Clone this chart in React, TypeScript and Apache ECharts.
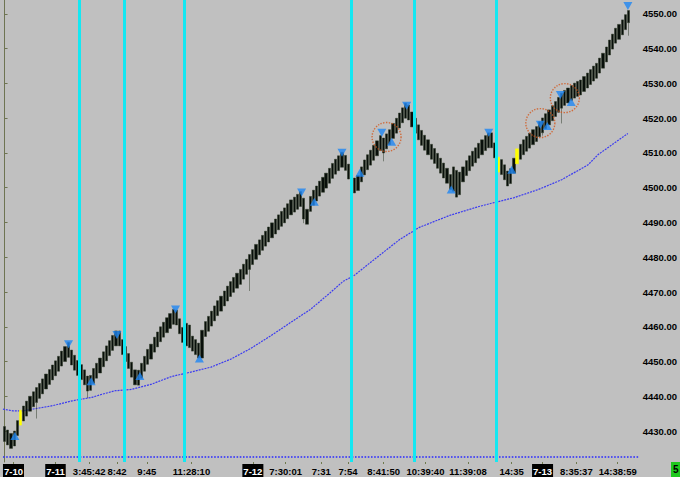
import React, { useEffect, useRef } from "react";
import * as echarts from "echarts";

const N_SLOTS = 200;
const RANGE = 4.3;

// bar closes per trading day
const closesDay0710 = [
  4427, 4426, 4425, 4430, 4433, 4436, 4437.2, 4438.6, 4440, 4441.3, 4442.5, 4443.7, 4445, 4446.4, 4447.7, 4449,
];
const closesDay0711 = [
  4450.2, 4451.5, 4453, 4454.3, 4455.5, 4449, 4447.5, 4446, 4444.8, 4443.3, 4441.5, 4446, 4448, 4449.5, 4451,
  4452.8, 4454.5, 4456, 4457.5, 4458.8, 4454.5, 4452, 4450, 4448, 4445.5, 4443.3, 4447.5, 4449.5, 4451.5, 4453.5,
  4455, 4457, 4458.5, 4460, 4461.3, 4462.6, 4463.8, 4465, 4460.5, 4458, 4455.5, 4461, 4454, 4453, 4452, 4451,
  4459, 4461.5, 4463, 4464.5, 4466, 4467.5, 4468.8, 4470.3, 4471.7, 4473, 4474.2, 4475.4, 4476.5, 4478, 4479.4,
  4480.8,
];
const closesDay0712 = [
  4482.2, 4483.7, 4485, 4486.3, 4487.5, 4488.7, 4489.9, 4491, 4492.2, 4493.2, 4494.2, 4495.4, 4496.5, 4497.3,
  4498.1, 4498.9, 4491, 4489.5, 4497.5, 4499.3, 4500.5, 4501.9, 4503, 4504.2, 4505.6, 4507, 4508.2, 4509.2,
  4510.2, 4505, 4502.5, 4500.5, 4498.5, 4503.5, 4506, 4508, 4509.5, 4510.8, 4512.2, 4513.5, 4515, 4510, 4515.5,
  4516.7, 4518.5, 4520, 4521.5, 4523, 4524.3, 4519.5, 4517.5, 4515.7, 4513.8, 4512.2, 4510.8, 4509.5, 4508.2,
  4507, 4505.6, 4504.2, 4502.8, 4501.3, 4499.5, 4506, 4497.3, 4504.5, 4506, 4507.8, 4509.2, 4510.5, 4511.5,
  4512.8, 4513.8, 4515, 4515.8, 4511.5, 4508.6, 4504.5, 4503.8, 4502.3, 4500.5, 4505.5, 4508.5, 4511.2, 4512.5,
  4513.8, 4514.8, 4515.7, 4516.7, 4517.6, 4519,
];
const closesDay0713 = [
  4520.1, 4521.3, 4522.4, 4523.6, 4524.8, 4526, 4527.2, 4528, 4528.7, 4529.4, 4530.1, 4530.6, 4531, 4532, 4533,
  4534, 4535, 4535.8, 4537.3, 4538.7, 4540.5, 4542.5, 4544.2, 4545.9, 4547, 4548.3, 4549.8, 4547.5,
];

// bars whose open is not one range away from the close: [barIndex, open]
const openOverrides: [number, number][] = [
  [57, 4454.5], [58, 4460.5], [62, 4451], [94, 4497], [96, 4493.2], [141, 4499], [142, 4505], [143, 4498], [196, 4551],
];
// long lower wicks: [barIndex, low]
const wickLows: [number, number][] = [
  [10, 4433.6], [26, 4439.5], [77, 4470.3], [94, 4489.8], [119, 4507.6], [169, 4515], [175, 4518.5], [196, 4543.75],
];
const yellowBars = [5, 155, 161];

const sessionLines = [23.4, 37.6, 56.4, 108.8, 128.8, 154.5];
const upSignals: [number, number][] = [
  [3.24, 4428.6], [27.2, 4444.3], [42.5, 4445.8], [61.2, 4450.9], [97.3, 4496.0], [111.6, 4504.35],
  [121.6, 4513.25], [140.3, 4499.5], [159.3, 4505.2], [170.5, 4517.8], [178.0, 4524.7],
];
const downSignals: [number, number][] = [
  [20.1, 4455.0], [35.3, 4457.6], [53.7, 4465.0], [93.3, 4498.6], [106.0, 4510.1], [118.5, 4515.8],
  [126.3, 4523.6], [152.1, 4515.8], [168.3, 4518.1], [174.6, 4526.7], [195.8, 4552.3],
];
const circleMarks: [number, number][] = [[120, 4514.6], [168.3, 4518.6], [176.0, 4525.8]];

const maPoints: [number, number][] = [
  [-0.5, 4436.3], [2.6, 4435.8], [5.7, 4435.8], [8.8, 4436.3], [15.1, 4437.3], [21.3, 4438.7], [27.5, 4439.7],
  [30.7, 4440.6], [34.8, 4441.6], [40, 4442.0], [46.2, 4443.5], [52.5, 4445.7], [58.7, 4447.0], [64.9, 4448.4],
  [71.1, 4450.7], [77.4, 4453.8], [83.6, 4457.4], [89.8, 4461.2], [96.1, 4465.0], [102.3, 4469.8],
  [106.4, 4473.1], [109.6, 4474.6], [114.8, 4478.4], [124.1, 4485.1], [130.3, 4488.6], [139.7, 4492.0],
  [149, 4494.6], [153.7, 4495.7], [159.9, 4497.1], [167.7, 4499.5], [175, 4502.3], [183.3, 4506.6],
  [186.4, 4509.5], [195.8, 4515.63],
];

const timeLabels = [
  "7-10", "7-11", "3:45:42", "8:42", "9:45", "11:28:10", "7-12", "7:30:01", "7:31", "7:54", "8:41:50",
  "10:39:40", "11:39:08", "14:35", "7-13", "8:35:37", "14:38:59",
];
const timeLabelPos = [
  2.8, 16.0, 26.6, 35.3, 44.7, 58.7, 78.0, 88.3, 99.5, 107.9, 119.1, 132.2, 145.6, 159.3, 169.0, 179.6, 192.6,
];
const priceTicks = [4430, 4440, 4450, 4460, 4470, 4480, 4490, 4500, 4510, 4520, 4530, 4540, 4550];
const lastPrice = 4543.75;
const floorLine = 4422.5;
const statusText = "5";

const FONT = "'Liberation Sans', Arial, sans-serif";

export default function App() {
  const ref = useRef<HTMLDivElement>(null);
  useEffect(() => {
    if (!ref.current) return;
    const chart = echarts.init(ref.current, undefined, { renderer: "svg" });
    const closes = [...closesDay0710, ...closesDay0711, ...closesDay0712, ...closesDay0713];
    const openMap = new Map(openOverrides);
    const lowMap = new Map(wickLows);
    const candles = closes.map((c, i) => {
      const prev = i === 0 ? c + 1 : closes[i - 1];
      const up = c > prev;
      const open = openMap.has(i) ? (openMap.get(i) as number) : up ? c - RANGE : c + RANGE;
      let low = Math.min(open, c);
      const high = Math.max(open, c);
      if (lowMap.has(i)) low = Math.min(low, lowMap.get(i) as number);
      const item: any = { value: [open, c, low, high] };
      if (yellowBars.includes(i)) {
        item.itemStyle = { color: "#ffff00", color0: "#ffff00", borderColor: "#ffff00", borderColor0: "#ffff00" };
      }
      return item;
    });
    const maLast = maPoints[maPoints.length - 1][1];

    chart.setOption({
      animation: false,
      backgroundColor: "#c0c0c0",
      grid: { left: 0, right: 38, top: 0, bottom: 14 },
      xAxis: [
        {
          type: "category",
          data: Array.from({ length: N_SLOTS }, (_, i) => String(i)),
          boundaryGap: true,
          show: false,
        },
        {
          type: "value",
          min: -0.5,
          max: N_SLOTS - 0.5,
          position: "bottom",
          splitLine: { show: false },
          axisLine: { show: false },
          axisTick: { show: true, customValues: timeLabelPos, length: 2, lineStyle: { color: "#6f7a4f" } },
          axisLabel: {
            customValues: timeLabelPos,
            margin: 2,
            formatter: (v: number) => {
              const k = timeLabelPos.indexOf(v);
              const s = k >= 0 ? timeLabels[k] : "";
              return s.includes("-") ? `{d|${s}}` : `{t|${s}}`;
            },
            rich: {
              d: {
                backgroundColor: "#000",
                color: "#fff",
                fontWeight: "bold",
                fontSize: 9.5,
                fontFamily: FONT,
                padding: [2, 1, 1, 1],
              },
              t: { color: "#000", fontWeight: "bold", fontSize: 9.5, fontFamily: FONT, padding: [2, 0, 1, 0] },
            },
          },
        },
      ],
      yAxis: {
        type: "value",
        position: "right",
        min: 4421.09,
        max: 4554.02,
        splitLine: { show: false },
        axisLine: { show: true, lineStyle: { color: "#6e7452", width: 1 } },
        axisTick: { show: true, customValues: priceTicks, length: 3, lineStyle: { color: "#6e7452" } },
        axisLabel: {
          customValues: priceTicks,
          margin: 3,
          color: "#000",
          fontWeight: "bold",
          fontSize: 9.5,
          fontFamily: FONT,
          formatter: (v: number) => v.toFixed(2),
        },
      },
      series: [
        {
          type: "line",
          xAxisIndex: 1,
          data: maPoints,
          showSymbol: false,
          symbol: "none",
          z: 1,
          lineStyle: { color: "#3c3cf0", width: 1.2, type: [2, 1] },
          markLine: {
            silent: true,
            symbol: ["none", "none"],
            lineStyle: { opacity: 0 },
            data: [
              {
                yAxis: maLast,
                label: {
                  show: true,
                  position: "end",
                  distance: 2,
                  formatter: maLast.toFixed(2),
                  backgroundColor: "#1414e6",
                  color: "#fff",
                  fontWeight: "bold",
                  fontSize: 9.5,
                  fontFamily: FONT,
                  padding: [2, 1, 1, 2],
                },
              },
              {
                yAxis: lastPrice,
                label: {
                  show: true,
                  position: "end",
                  distance: 2,
                  formatter: lastPrice.toFixed(2),
                  backgroundColor: "#ffff00",
                  color: "#000",
                  fontWeight: "bold",
                  fontSize: 9.5,
                  fontFamily: FONT,
                  padding: [2, 1, 1, 2],
                },
              },
            ],
          },
        },
        {
          type: "candlestick",
          xAxisIndex: 0,
          data: candles,
          barWidth: 2.7,
          z: 2,
          itemStyle: {
            color: "#080f0a",
            color0: "#080f0a",
            borderColor: "#2e3a28",
            borderColor0: "#2e3a28",
            borderWidth: 0.5,
          },
          markLine: {
            silent: true,
            symbol: ["none", "none"],
            label: { show: false },
            lineStyle: { color: "#2828ff", type: "dotted", width: 1.6 },
            data: [{ yAxis: floorLine }],
          },
        },
        {
          type: "scatter",
          xAxisIndex: 1,
          data: circleMarks,
          symbol: "circle",
          symbolSize: 29,
          z: 3,
          itemStyle: { color: "rgba(0,0,0,0)", borderColor: "#d2561c", borderType: "dotted", borderWidth: 1.4 },
          markLine: {
            silent: true,
            symbol: ["none", "none"],
            label: { show: false },
            lineStyle: { color: "#14e8f2", type: "solid", width: 3, opacity: 1 },
            data: sessionLines.map((v) => ({ xAxis: v })),
          },
        },
        {
          type: "scatter",
          xAxisIndex: 1,
          data: upSignals,
          symbol: "triangle",
          symbolSize: [9, 8],
          z: 6,
          itemStyle: { color: "#1e86f2" },
        },
        {
          type: "scatter",
          xAxisIndex: 1,
          data: downSignals,
          symbol: "triangle",
          symbolRotate: 180,
          symbolSize: [9, 8],
          z: 6,
          itemStyle: { color: "#1e86f2" },
        },
      ],
      graphic: [
        { type: "rect", left: 671, top: 462, shape: { width: 9, height: 15 }, style: { fill: "#1ec81e" } },
        {
          type: "text",
          left: 673,
          top: 464,
          style: { text: statusText, fill: "#000", font: `bold 10px ${FONT}` },
        },
      ],
    });
    return () => chart.dispose();
  }, []);
  return <div ref={ref} style={{ position: "fixed", left: 0, top: 0, width: 680, height: 477 }} />;
}
